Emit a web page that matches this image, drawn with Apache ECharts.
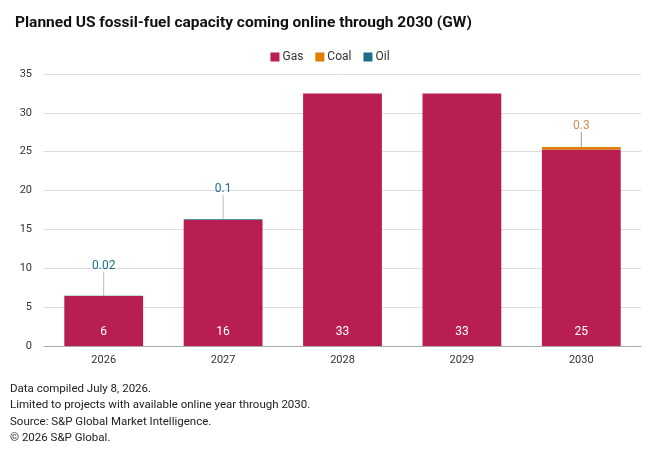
<!DOCTYPE html>
<html>
<head>
<meta charset="utf-8">
<script src="https://cdn.jsdelivr.net/npm/echarts@6/dist/echarts.min.js"></script>
<style>
  html, body { margin: 0; padding: 0; background: #fff; }
  #chart { width: 660px; height: 452px; }
</style>
</head>
<body>
<div id="chart"></div>
<script>
const years = ["2026", "2027", "2028", "2029", "2030"];
const gas = [6.43, 16.2, 32.5, 32.5, 25.3];
const coal = [null, null, null, null, 0.3];
const oil = [0.02, 0.1, null, null, null];
const notes = [
  "Data compiled July 8, 2026.",
  "Limited to projects with available online year through 2030.",
  "Source: S&P Global Market Intelligence.",
  "\u00a9 2026 S&P Global.",
];

const font = "Roboto, 'Liberation Sans', sans-serif";
const chart = echarts.init(document.getElementById("chart"));

const smallLabel = (color) => ({
  show: true,
  position: "top",
  color: color,
  fontSize: 12,
  fontFamily: font,
});

chart.setOption({
  animation: false,
  textStyle: { fontFamily: font },
  title: {
    text: "Planned US fossil-fuel capacity coming online through 2030 (GW)",
    left: 10,
    top: 10,
    textStyle: { fontSize: 15.5, fontWeight: "bold", color: "#111", fontFamily: font },
  },
  legend: {
    top: 46,
    left: "center",
    icon: "rect",
    itemWidth: 9,
    itemHeight: 9,
    itemGap: 12,
    textStyle: { fontSize: 12, color: "#333", padding: [0, 0, 0, -2] },
    data: ["Gas", "Coal", "Oil"],
  },
  grid: { left: 44, right: 19, top: 74, bottom: 106 },
  xAxis: {
    type: "category",
    data: years,
    axisTick: { show: false },
    axisLine: { lineStyle: { color: "#aaa" } },
    axisLabel: { color: "#333", fontSize: 11, margin: 9 },
  },
  yAxis: {
    type: "value",
    min: 0,
    max: 35,
    interval: 5,
    axisLabel: { color: "#333", fontSize: 11, margin: 12 },
    splitLine: { lineStyle: { color: "#ddd" } },
  },
  graphic: notes.map((t, i) => ({
    type: "text",
    left: 10,
    top: 383 + i * 16.4,
    style: { text: t, fontSize: 11.5, fill: "#222", fontFamily: font },
  })),
  series: [
    {
      name: "Gas",
      type: "bar",
      stack: "total",
      barWidth: "66%",
      data: gas,
      itemStyle: { color: "#B81F50" },
      label: {
        show: true,
        position: "insideBottom",
        distance: 8,
        color: "#fff",
        fontSize: 12,
        formatter: (p) => Math.round(p.value),
      },
    },
    {
      name: "Coal",
      type: "bar",
      stack: "total",
      data: coal,
      itemStyle: { color: "#E07F00" },
      label: smallLabel("#D58A55"),
      labelLayout: { dy: -10 },
      labelLine: { show: true, lineStyle: { color: "#999", width: 1 } },
    },
    {
      name: "Oil",
      type: "bar",
      stack: "total",
      data: oil,
      itemStyle: { color: "#1B6F8A" },
      label: smallLabel("#1B6F8A"),
      labelLayout: { dy: -19 },
      labelLine: { show: true, lineStyle: { color: "#bbb", width: 1 } },
    },
  ],
});
</script>
</body>
</html>
